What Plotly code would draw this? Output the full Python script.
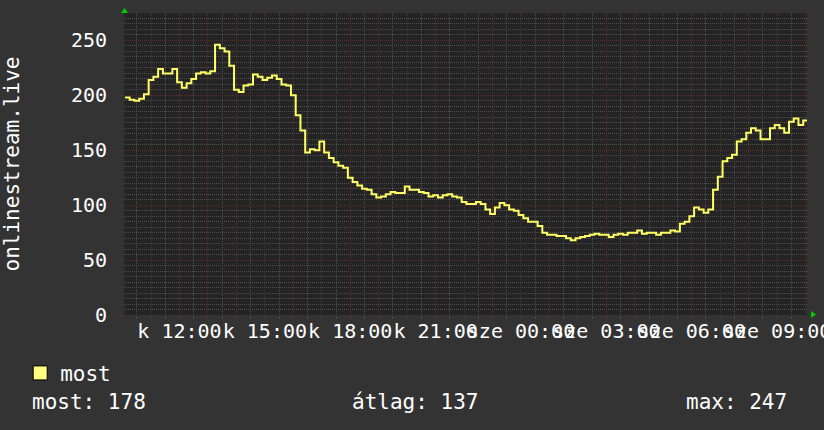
import pandas as pd
import plotly.graph_objects as go

# ---- data (10-minute samples) ----
START = "2024-01-02 10:05"
values = [
    198, 196, 195, 197, 201, 214, 217, 224, 220, 220, 224, 212,
    207, 211, 215, 220, 221, 220, 222, 246, 243, 240, 227, 205,
    203, 209, 210, 219, 217, 214, 216, 218, 215, 210, 209, 200,
    182, 168, 148, 151, 150, 158, 148, 143, 139, 136, 134, 125,
    121, 118, 115, 114, 110, 107, 108, 110, 112, 111, 111, 117,
    114, 114, 112, 111, 108, 109, 107, 109, 110, 108, 107, 103,
    101, 101, 103, 101, 96, 92, 98, 102, 100, 96, 95, 91,
    88, 85, 85, 81, 75, 73, 73, 72, 72, 70, 68, 70,
    71, 72, 73, 74, 73, 73, 71, 73, 74, 73, 75, 75,
    77, 74, 75, 75, 73, 75, 75, 77, 76, 83, 85, 90,
    98, 96, 93, 96, 114, 126, 140, 143, 146, 158, 160, 166,
    170, 168, 160, 160, 170, 173, 170, 166, 176, 179, 173, 177,
    178,
]
times = pd.date_range(START, periods=len(values), freq="10min")

x_range = ["2024-01-02 10:03", "2024-01-03 10:03"]
hour_ticks = pd.date_range("2024-01-02 11:00", "2024-01-03 10:00", freq="1h")
label_map = {
    "2024-01-02 12:00": "k 12:00",
    "2024-01-02 15:00": "k 15:00",
    "2024-01-02 18:00": "k 18:00",
    "2024-01-02 21:00": "k 21:00",
    "2024-01-03 00:00": "sze 00:00",
    "2024-01-03 03:00": "sze 03:00",
    "2024-01-03 06:00": "sze 06:00",
    "2024-01-03 09:00": "sze 09:00",
}
tick_text = [label_map.get(t.strftime("%Y-%m-%d %H:%M"), "") for t in hour_ticks]

y_ticks = [0, 50, 100, 150, 200, 250]
series_name = "most"
axis_title = "onlinestream.live"
stat_labels = ["most: 178", "átlag: 137", "max: 247"]

# ---- styles ----
FONT = "DejaVu Sans Mono"
LINE_COLOR = "#FFFF66"
BG = "#333333"
PLOT_BG = "#242424"
MAJOR = "#5e2c2c"
MINOR = "#4e4e4e"
DASH = "1px,1px"

fig = go.Figure()
fig.add_trace(go.Scatter(
    x=times, y=values, mode="lines", line=dict(color=LINE_COLOR, width=2, shape="hv"),
    showlegend=False, hoverinfo="skip",
))
fig.add_trace(go.Scatter(
    x=[None], y=[None], mode="markers", name=series_name,
    marker=dict(symbol="square", size=14, color="#FFFF80", line=dict(color="black", width=1)),
))

fig.update_layout(
    width=824, height=430,
    margin=dict(l=124, r=17, t=13, b=115, autoexpand=False),
    paper_bgcolor=BG, plot_bgcolor=PLOT_BG,
    font=dict(family=FONT, color="white", size=20),
    legend=dict(x=-0.152, y=-0.125, xanchor="left", yanchor="top",
                font=dict(size=21, color="white", family=FONT),
                bgcolor="rgba(0,0,0,0)", itemwidth=30),
)

fig.update_xaxes(
    type="date", range=x_range, automargin=False,
    tickmode="array", tickvals=hour_ticks, ticktext=tick_text,
    tickangle=0, ticklabeloverflow="allow",
    showgrid=True, gridcolor=MAJOR, griddash=DASH, gridwidth=1,
    ticks="outside", ticklen=3, tickcolor=MAJOR,
    minor=dict(dtick=30 * 60 * 1000, tick0="2024-01-02 00:00", showgrid=True,
               gridcolor=MINOR, griddash=DASH, ticks="outside", ticklen=3, tickcolor=MINOR),
    zeroline=False, showline=False,
    tickfont=dict(family=FONT, size=20, color="white"),
    ticklabelstandoff=-5,
)
fig.update_yaxes(
    range=[0, 275], tickmode="array", tickvals=y_ticks, automargin=False,
    showgrid=True, gridcolor=MAJOR, griddash=DASH, gridwidth=1,
    ticks="outside", ticklen=3, tickcolor=MAJOR,
    minor=dict(dtick=5, showgrid=True, gridcolor=MINOR, griddash=DASH),
    zeroline=False, showline=False,
    tickfont=dict(family=FONT, size=20, color="white"),
    ticklabelstandoff=9,
    title=dict(text=axis_title, font=dict(family=FONT, size=21, color="white"), standoff=50),
)

# RRD-style green axis arrows
fig.add_shape(type="path", xref="x domain", yref="y domain", xsizemode="pixel", ysizemode="pixel",
              xanchor=0, yanchor=1, path="M -3,0 L 4,0 L 0.5,5 Z",
              fillcolor="#00CC00", line=dict(width=0))
fig.add_shape(type="path", xref="x domain", yref="y domain", xsizemode="pixel", ysizemode="pixel",
              xanchor=1, yanchor=0, path="M 4,-3 L 4,4 L 9,0.5 Z",
              fillcolor="#00CC00", line=dict(width=0))

# statistics line
stat_px = [30, 350, 684]
for txt, px in zip(stat_labels, stat_px):
    fig.add_annotation(text=txt, xref="paper", yref="paper",
                       x=(px - 124) / 683, y=(315 - 402) / 302,
                       xanchor="left", yanchor="middle", showarrow=False,
                       font=dict(family=FONT, size=21, color="white"))

fig.write_html("out.html", config={"displayModeBar": False},
               post_script="document.body.style.margin='0';")
